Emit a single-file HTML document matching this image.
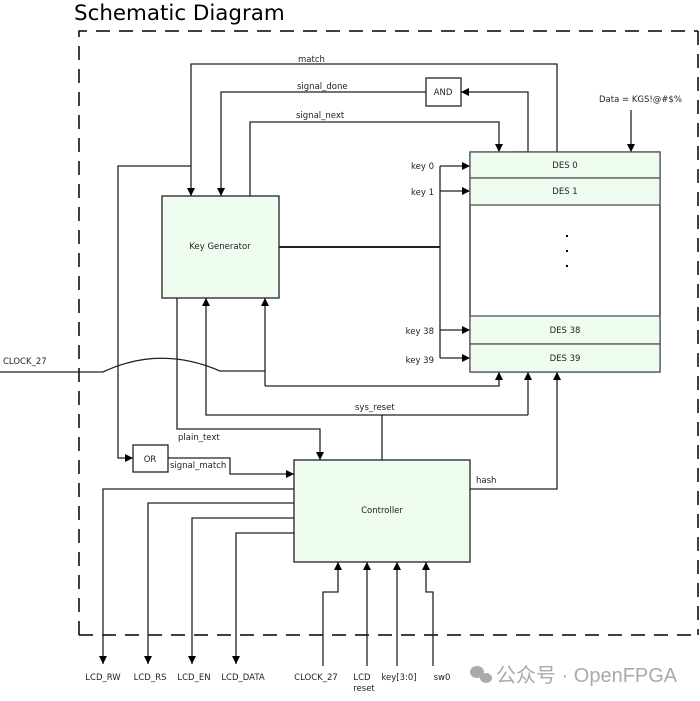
<!DOCTYPE html>
<html><head><meta charset="utf-8"><style>
html,body{margin:0;padding:0;background:#fff;}
svg{display:block;}
text{font-family:"DejaVu Sans","Liberation Sans",sans-serif;font-size:8.5px;fill:#222;}
</style></head><body>
<svg width="700" height="701" viewBox="0 0 700 701" xmlns="http://www.w3.org/2000/svg">
<defs>
<marker id="a" viewBox="0 0 10 10" refX="10" refY="5" markerWidth="8" markerHeight="8" markerUnits="userSpaceOnUse" orient="auto"><path d="M0,0 L10,5 L0,10 z" fill="#000"/></marker>
</defs>
<text x="74" y="20" style="font-size:21.4px;fill:#000">Schematic Diagram</text>
<path d="M79,635 V31 H698 M79,635 H698" fill="none" stroke="#000" stroke-width="1.5" stroke-dasharray="14,9"/>
<path d="M698,31 V635" fill="none" stroke="#000" stroke-width="1.5" stroke-dasharray="14,9"/>

<g fill="none" stroke="#222" stroke-width="1.3">
<path d="M557,152 V64 H191 V196" marker-end="url(#a)"/>
<path d="M426,92 H221 V196" marker-end="url(#a)"/>
<path d="M514,152 H528 V92 H461" marker-end="url(#a)"/>
<path d="M250,196 V122 H499 V152" marker-end="url(#a)"/>
<path d="M631,110 V152" marker-end="url(#a)"/>
<path d="M191,166 H118 V458 H133" marker-end="url(#a)"/>
<path d="M279,247 H440" stroke-width="2"/>
<path d="M440,166 V358"/>
<path d="M440,166 H470" marker-end="url(#a)"/>
<path d="M440,191 H470" marker-end="url(#a)"/>
<path d="M440,330 H470" marker-end="url(#a)"/>
<path d="M440,358 H470" marker-end="url(#a)"/>
<path d="M177,298 V429 H320 V460" marker-end="url(#a)"/>
<path d="M382,460 V415"/>
<path d="M528,415 H206 V298" marker-end="url(#a)"/>
<path d="M528,415 V372" marker-end="url(#a)"/>
<path d="M0,372 H103 Q160,345 220,371 H265"/>
<path d="M265,386 V298" marker-end="url(#a)"/>
<path d="M265,386 H499 V372" marker-end="url(#a)"/>
<path d="M470,489 H557 V372" marker-end="url(#a)"/>
<path d="M168,458 H230 V474 H294" marker-end="url(#a)"/>
<path d="M294,489 H103 V664" marker-end="url(#a)"/>
<path d="M294,503 H148 V664" marker-end="url(#a)"/>
<path d="M294,518 H192 V664" marker-end="url(#a)"/>
<path d="M294,533 H236 V664" marker-end="url(#a)"/>
<path d="M323,666 V592 H338 V562" marker-end="url(#a)"/>
<path d="M367,666 V562" marker-end="url(#a)"/>
<path d="M397,666 V562" marker-end="url(#a)"/>
<path d="M433,666 V592 H426 V562" marker-end="url(#a)"/>
</g>

<g stroke="#222" stroke-width="1.3">
<rect x="162" y="196" width="117" height="102" fill="#effdf0"/>
<rect x="470" y="152" width="190" height="220" fill="#fff"/>
<rect x="470" y="152" width="190" height="26" fill="#effdf0" stroke="#555"/>
<rect x="470" y="178" width="190" height="27" fill="#effdf0" stroke="#555"/>
<rect x="470" y="316" width="190" height="28" fill="#effdf0" stroke="#555"/>
<rect x="470" y="344" width="190" height="28" fill="#effdf0" stroke="#555"/>
<rect x="426" y="78" width="35" height="28" fill="#fff"/>
<rect x="133" y="445" width="35" height="27" fill="#fff"/>
<rect x="294" y="460" width="176" height="102" fill="#effdf0"/>
</g>
<g fill="#000"><rect x="566" y="235" width="2" height="2"/><rect x="566" y="250" width="2" height="2"/><rect x="566" y="265" width="2" height="2"/></g>

<text x="220" y="249" text-anchor="middle">Key Generator</text>
<text x="565" y="168" text-anchor="middle">DES 0</text>
<text x="565" y="194" text-anchor="middle">DES 1</text>
<text x="565" y="333" text-anchor="middle">DES 38</text>
<text x="565" y="361" text-anchor="middle">DES 39</text>
<text x="443" y="95" text-anchor="middle">AND</text>
<text x="150" y="462" text-anchor="middle">OR</text>
<text x="382" y="513" text-anchor="middle">Controller</text>
<text x="298" y="62">match</text>
<text x="297" y="89">signal_done</text>
<text x="296" y="118">signal_next</text>
<text x="599" y="102">Data = KGS!@#$%</text>
<text x="434" y="169" text-anchor="end">key 0</text>
<text x="434" y="195" text-anchor="end">key 1</text>
<text x="434" y="334" text-anchor="end">key 38</text>
<text x="434" y="363" text-anchor="end">key 39</text>
<text x="3" y="364">CLOCK_27</text>
<text x="355" y="410">sys_reset</text>
<text x="178" y="440">plain_text</text>
<text x="170" y="468">signal_match</text>
<text x="476" y="483">hash</text>
<text x="103" y="680" text-anchor="middle">LCD_RW</text>
<text x="150" y="680" text-anchor="middle">LCD_RS</text>
<text x="194" y="680" text-anchor="middle">LCD_EN</text>
<text x="243" y="680" text-anchor="middle">LCD_DATA</text>
<text x="316" y="680" text-anchor="middle">CLOCK_27</text>
<text x="362" y="680" text-anchor="middle">LCD</text>
<text x="364" y="691" text-anchor="middle">reset</text>
<text x="399" y="680" text-anchor="middle">key[3:0]</text>
<text x="442" y="680" text-anchor="middle">sw0</text>
<g fill="#aaa"><ellipse cx="477" cy="672" rx="7" ry="6"/><ellipse cx="486" cy="678" rx="6" ry="5"/></g>
<text x="496" y="682" style="font-family:'Liberation Sans','Noto Sans CJK SC',sans-serif;font-size:20px;fill:#aaa">公众号 · OpenFPGA</text>
</svg>
</body></html>
